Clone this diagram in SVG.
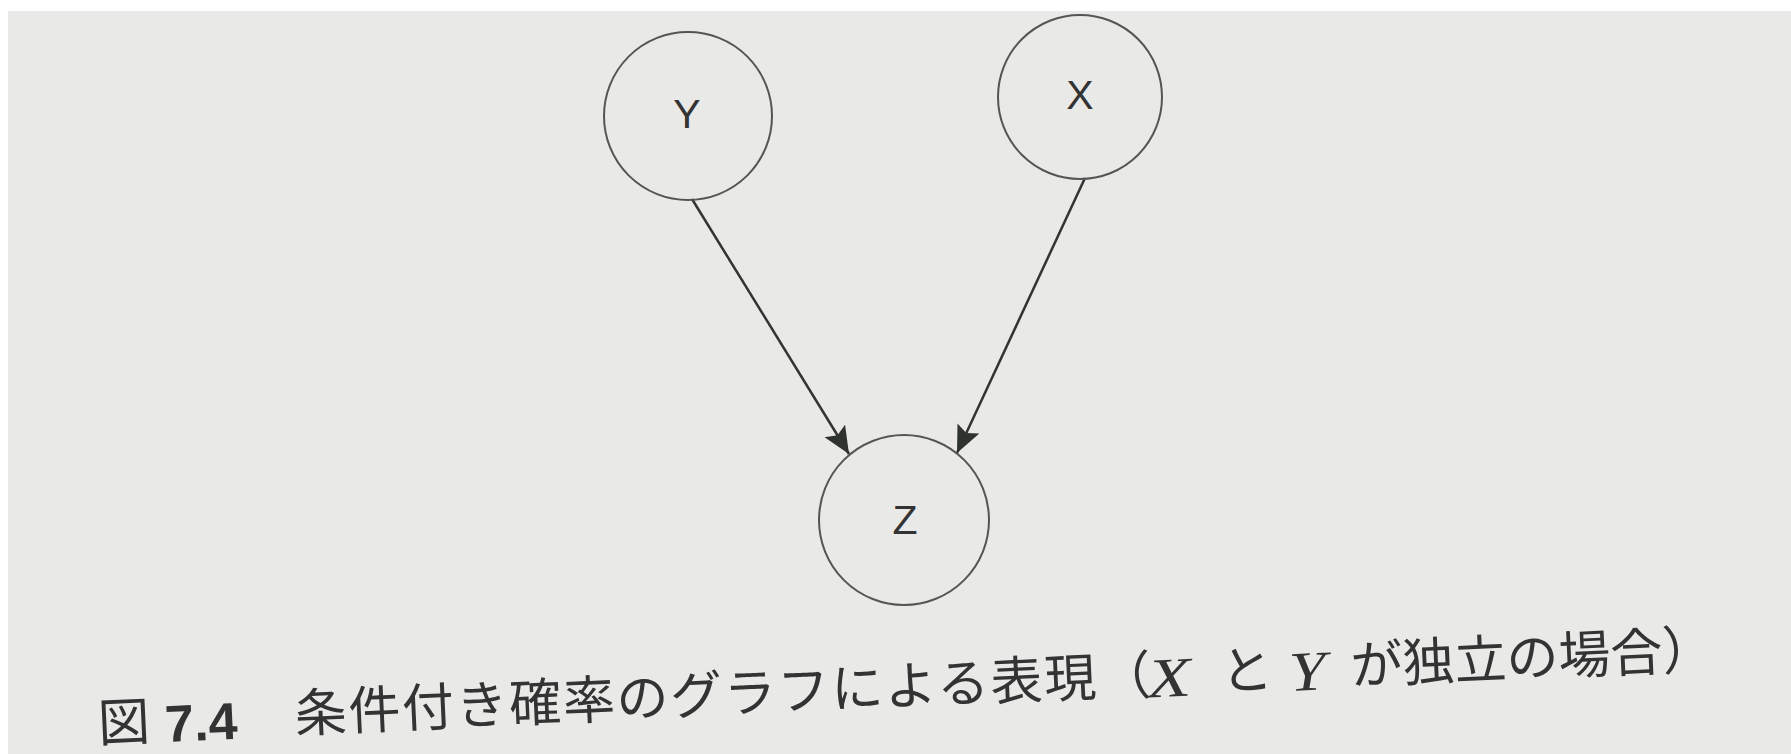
<svg xmlns="http://www.w3.org/2000/svg" width="1791" height="754" viewBox="0 0 1791 754">
<style>
.node{fill:none;stroke:#555;stroke-width:2}
.lbl{font-family:"Liberation Sans",Arial,sans-serif;font-size:41px;fill:#333;text-anchor:middle}
.edge{stroke:#333;stroke-width:2.5;fill:none}
.jp{font-family:"Noto Sans CJK JP",sans-serif;font-size:52px;fill:#333}
.it{font-family:"Liberation Serif",serif;font-style:italic;font-size:56px;fill:#333}
.num{font-family:"Liberation Sans",Arial,sans-serif;font-weight:bold;font-size:52px;fill:#333}
</style>
<defs>
<marker id="arr" markerUnits="userSpaceOnUse" markerWidth="30" markerHeight="26" refX="27" refY="12" orient="auto">
<path d="M0,0 L27,12 L0,24 L5,12 z" fill="#2f332f"/>
</marker>
</defs>
<rect x="0" y="0" width="1791" height="754" fill="#ffffff"/>
<rect x="8" y="11" width="1783" height="743" fill="#e9e9e7"/>
<g id="edges">
<line class="edge" x1="692" y1="199" x2="849" y2="454" marker-end="url(#arr)"/>
<line class="edge" x1="1085" y1="178" x2="957" y2="453" marker-end="url(#arr)"/>
</g>
<g id="node-Y">
<circle class="node" cx="688" cy="116" r="84"/>
<text class="lbl" x="687" y="128">Y</text>
</g>
<g id="node-X">
<circle class="node" cx="1080" cy="97" r="82"/>
<text class="lbl" x="1080" y="109">X</text>
</g>
<g id="node-Z">
<circle class="node" cx="904" cy="520" r="85"/>
<text class="lbl" x="905" y="534">Z</text>
</g>
<g id="caption" transform="rotate(-2.6 981.5 705.75)">
<text class="jp" x="98" y="702" font-size="50">図</text>
<text class="num" x="165" y="705">7.4</text>
<text class="jp" x="295" y="701" letter-spacing="1.7">条件付き確率のグラフによる表現</text>
<text class="jp" x="1100" y="701">（</text>
<text class="it" x="1148" y="705" textLength="44" lengthAdjust="spacingAndGlyphs">X</text>
<text class="jp" x="1222" y="701">と</text>
<text class="it" x="1290" y="705" textLength="37" lengthAdjust="spacingAndGlyphs">Y</text>
<text class="jp" x="1352" y="701">が独立の場合）</text>
</g>
</svg>
